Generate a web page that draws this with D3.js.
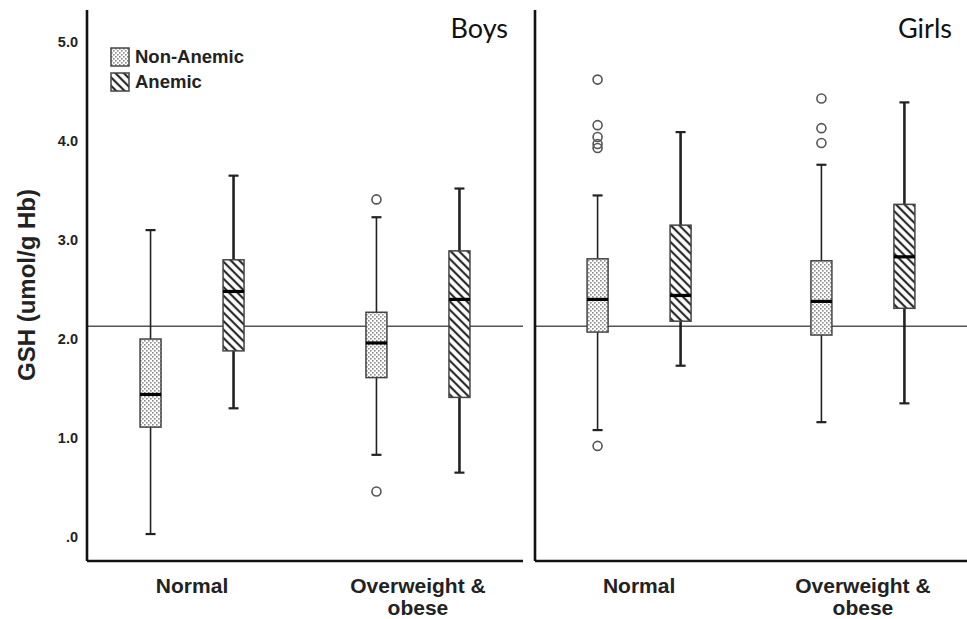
<!DOCTYPE html>
<html>
<head>
<meta charset="utf-8">
<script src="https://cdn.jsdelivr.net/npm/d3@7"></script>
<style>
  body { margin: 0; background: #fff; }
  svg text { font-family: "Liberation Sans", Arial, sans-serif; }
</style>
</head>
<body>
<div id="chart"></div>
<script>
// data
var panels = ["Boys", "Girls"];
var categories = ["Normal", "Overweight & obese"];
var groups = ["Non-Anemic", "Anemic"];
var yTicks = [0, 1, 2, 3, 4, 5];
var refValue = 2.13;

// [low whisker, Q1, median, Q3, high whisker], order: Normal NA, Normal A, OW NA, OW A
var boysStats = [
    [0.03, 1.11, 1.44, 2.00, 3.10],
    [1.30, 1.88, 2.48, 2.80, 3.65],
    [0.83, 1.61, 1.96, 2.27, 3.23],
    [0.65, 1.41, 2.40, 2.89, 3.52]
];
var girlsStats = [
    [1.08, 2.07, 2.40, 2.81, 3.45],
    [1.73, 2.18, 2.44, 3.15, 4.09],
    [1.16, 2.04, 2.38, 2.79, 3.76],
    [1.35, 2.31, 2.83, 3.36, 4.39]
];
var boysOutliers = [[], [], [3.41, 0.46], []];
var girlsOutliers = [[4.62, 4.16, 4.04, 3.97, 3.93, 0.92], [], [4.43, 4.13, 3.98], []];

var width = 967, height = 619;
var frameTop = 10, frameBottom = 561;

var svg = d3.select("#chart").append("svg")
    .attr("width", width)
    .attr("height", height);

// patterns
var defs = svg.append("defs");
var dots = defs.append("pattern")
    .attr("id", "dots")
    .attr("patternUnits", "userSpaceOnUse")
    .attr("width", 4).attr("height", 4);
dots.append("rect").attr("width", 4).attr("height", 4).attr("fill", "#fff");
dots.append("rect").attr("x", 0).attr("y", 0).attr("width", 1.6).attr("height", 1.6).attr("fill", "#8a8a8a");
dots.append("rect").attr("x", 2).attr("y", 2).attr("width", 1.6).attr("height", 1.6).attr("fill", "#8a8a8a");

var stripes = defs.append("pattern")
    .attr("id", "stripes")
    .attr("patternUnits", "userSpaceOnUse")
    .attr("width", 6).attr("height", 6)
    .attr("patternTransform", "rotate(-45)");
stripes.append("rect").attr("width", 6).attr("height", 6).attr("fill", "#fff");
stripes.append("line").attr("x1", 3).attr("y1", 0).attr("x2", 3).attr("y2", 6)
    .attr("stroke", "#2a2a2a").attr("stroke-width", 2.2);

var fillFor = { "Non-Anemic": "url(#dots)", "Anemic": "url(#stripes)" };
var whiskerWidth = { "Non-Anemic": 1.6, "Anemic": 2.6 };

var y = d3.scaleLinear().domain([0, 5]).range([537, 42]);

var panelRanges = [[87, 523], [535, 967]];

// y axis labels
svg.selectAll(".ytick")
    .data(yTicks)
    .enter()
    .append("text")
    .attr("class", "ytick")
    .attr("x", 78)
    .attr("y", function(d) { return y(d); })
    .attr("dy", "0.35em")
    .attr("text-anchor", "end")
    .attr("font-size", 14.5)
    .attr("font-weight", "bold")
    .attr("fill", "#222")
    .text(function(d) { return d === 0 ? ".0" : d3.format(".1f")(d); });

svg.append("text")
    .attr("transform", "translate(35,285) rotate(-90)")
    .attr("text-anchor", "middle")
    .attr("font-size", 24)
    .attr("font-weight", "bold")
    .attr("fill", "#222")
    .text("GSH (umol/g Hb)");

var sub = d3.scaleBand().domain(groups).range([-83, 83]);

panels.forEach(function(panel, pi) {
    var stats = pi === 0 ? boysStats : girlsStats;
    var outl = pi === 0 ? boysOutliers : girlsOutliers;
    var r = panelRanges[pi];
    var x = d3.scalePoint().domain(categories).range(r).padding(0.465);
    var g = svg.append("g");

    // reference line
    g.append("line")
        .attr("x1", r[0]).attr("x2", r[1])
        .attr("y1", y(refValue)).attr("y2", y(refValue))
        .attr("stroke", "#555").attr("stroke-width", 1.5);

    var boxes = [];
    categories.forEach(function(c, ci) {
        groups.forEach(function(gr, gi) {
            var s = stats[ci * 2 + gi];
            boxes.push({ cat: c, group: gr, s: s, out: outl[ci * 2 + gi],
                         cx: x(c) + sub(gr) + sub.bandwidth() / 2 });
        });
    });

    var bw = 21, cap = 10;
    var b = g.selectAll(".box").data(boxes).enter().append("g").attr("class", "box");

    b.append("line")
        .attr("x1", function(d) { return d.cx; }).attr("x2", function(d) { return d.cx; })
        .attr("y1", function(d) { return y(d.s[3]); }).attr("y2", function(d) { return y(d.s[4]); })
        .attr("stroke", "#222").attr("stroke-width", function(d) { return whiskerWidth[d.group]; });
    b.append("line")
        .attr("x1", function(d) { return d.cx; }).attr("x2", function(d) { return d.cx; })
        .attr("y1", function(d) { return y(d.s[0]); }).attr("y2", function(d) { return y(d.s[1]); })
        .attr("stroke", "#222").attr("stroke-width", function(d) { return whiskerWidth[d.group]; });
    [0, 4].forEach(function(k) {
        b.append("line")
            .attr("x1", function(d) { return d.cx - cap / 2; }).attr("x2", function(d) { return d.cx + cap / 2; })
            .attr("y1", function(d) { return y(d.s[k]); }).attr("y2", function(d) { return y(d.s[k]); })
            .attr("stroke", "#222").attr("stroke-width", 2.2);
    });

    b.append("rect")
        .attr("x", function(d) { return d.cx - bw / 2; })
        .attr("y", function(d) { return y(d.s[3]); })
        .attr("width", bw)
        .attr("height", function(d) { return y(d.s[1]) - y(d.s[3]); })
        .attr("fill", function(d) { return fillFor[d.group]; })
        .attr("stroke", "#444").attr("stroke-width", 1.5);

    b.append("line")
        .attr("x1", function(d) { return d.cx - bw / 2; }).attr("x2", function(d) { return d.cx + bw / 2; })
        .attr("y1", function(d) { return y(d.s[2]); }).attr("y2", function(d) { return y(d.s[2]); })
        .attr("stroke", "#000").attr("stroke-width", 3.2);

    b.selectAll(".out")
        .data(function(d) { return d.out.map(function(v) { return { v: v, cx: d.cx }; }); })
        .enter().append("circle")
        .attr("class", "out")
        .attr("cx", function(d) { return d.cx; })
        .attr("cy", function(d) { return y(d.v); })
        .attr("r", 4.5)
        .attr("fill", "none")
        .attr("stroke", "#555").attr("stroke-width", 1.6);

    // frame
    g.append("line")
        .attr("x1", r[0]).attr("x2", r[0]).attr("y1", frameTop).attr("y2", frameBottom)
        .attr("stroke", "#111").attr("stroke-width", 2.6);
    g.append("line")
        .attr("x1", r[0]).attr("x2", r[1]).attr("y1", frameBottom).attr("y2", frameBottom)
        .attr("stroke", "#111").attr("stroke-width", 2.6);

    // panel title
    g.append("text")
        .attr("x", r[1] - 15)
        .attr("y", 38)
        .attr("text-anchor", "end")
        .style("font-family", "Lato, 'Open Sans', sans-serif")
        .attr("font-size", 27)
        .attr("fill", "#111")
        .text(panel);

    // category labels
    categories.forEach(function(c) {
        var words = c === "Overweight & obese" ? ["Overweight &", "obese"] : [c];
        words.forEach(function(w, wi) {
            g.append("text")
                .attr("x", x(c))
                .attr("y", 593 + wi * 22)
                .attr("text-anchor", "middle")
                .attr("font-size", 21)
                .attr("font-weight", "bold")
                .attr("fill", "#222")
                .text(w);
        });
    });
});

// legend
var legend = svg.append("g").attr("transform", "translate(111,48)");
var li = legend.selectAll(".legend-item")
    .data(groups)
    .enter()
    .append("g")
    .attr("class", "legend-item")
    .attr("transform", function(d, i) { return "translate(0," + i * 25 + ")"; });
li.append("rect")
    .attr("width", 18).attr("height", 18)
    .attr("fill", function(d) { return fillFor[d]; })
    .attr("stroke", "#444").attr("stroke-width", 1.5);
li.append("text")
    .attr("x", 24).attr("y", 9)
    .attr("dy", "0.35em")
    .attr("font-size", 18.5)
    .attr("font-weight", "bold")
    .attr("fill", "#222")
    .text(function(d) { return d; });
</script>
</body>
</html>
